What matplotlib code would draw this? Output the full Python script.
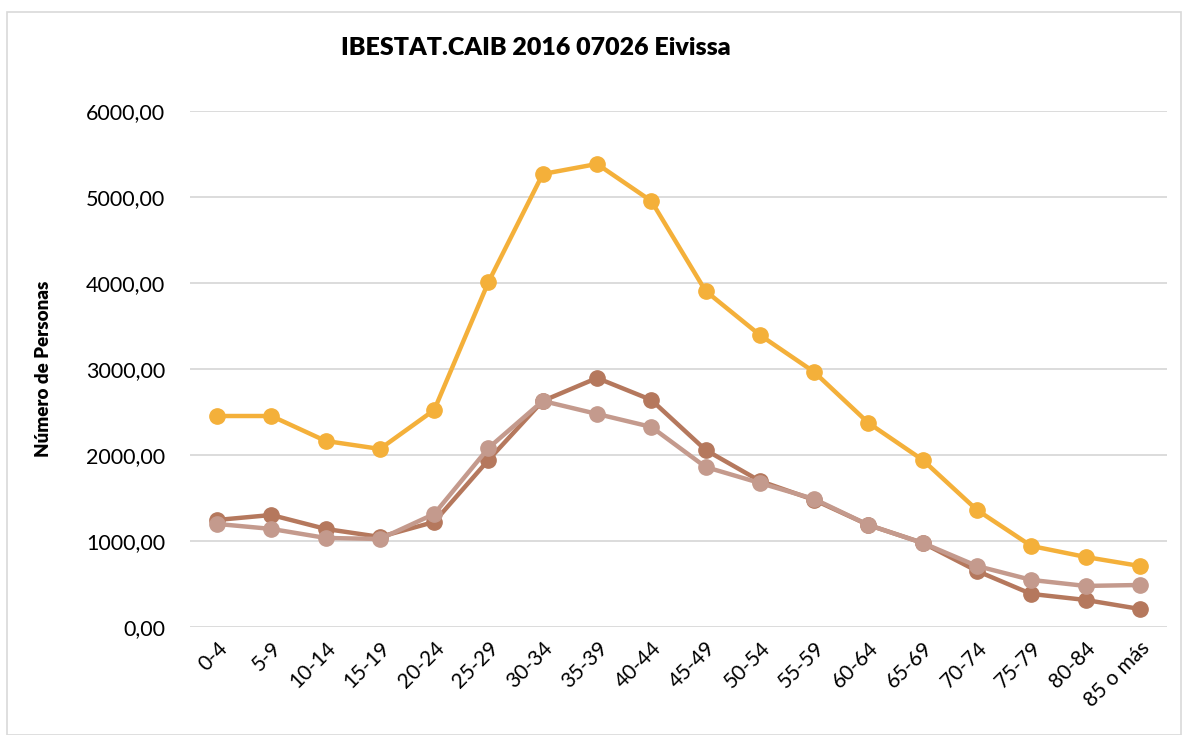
import numpy as np
import matplotlib.pyplot as plt
from matplotlib.patches import Rectangle
from matplotlib.ticker import FuncFormatter

plt.rcParams['font.family'] = ['Lato', 'DejaVu Sans']

grupos = ['0-4', '5-9', '10-14', '15-19', '20-24', '25-29', '30-34', '35-39',
          '40-44', '45-49', '50-54', '55-59', '60-64', '65-69', '70-74',
          '75-79', '80-84', '85 o más']

total = [2453, 2453, 2163, 2070, 2523, 4012, 5267, 5384, 4953, 3907, 3395,
         2965, 2372, 1942, 1360, 942, 814, 709]
hombres = [1244, 1302, 1140, 1047, 1221, 1942, 2628, 2895, 2640, 2058, 1698,
           1477, 1186, 977, 651, 384, 314, 209]
mujeres = [1198, 1140, 1035, 1023, 1314, 2081, 2628, 2477, 2326, 1860, 1674,
           1488, 1186, 977, 709, 547, 477, 488]

fig = plt.figure(figsize=(11.91, 7.35), dpi=100)
ax = fig.add_axes([0.1595, 0.147, 0.8203, 0.702])

# marco exterior del grafico
fig.patches.append(Rectangle((7 / 1191, 0), 1174 / 1191, 1 - 12 / 735,
                             transform=fig.transFigure, fill=False,
                             edgecolor='#d9d9d9', linewidth=1.2))

x = np.arange(len(grupos))
for serie, color in [(total, '#F4B03A'), (hombres, '#B5785D'), (mujeres, '#C49A8D')]:
    ax.plot(x, serie, color=color, linewidth=3.2, marker='o', markersize=11,
            solid_capstyle='round')

ax.set_xlim(-0.5, len(grupos) - 0.5)
ax.set_ylim(0, 6000)
ax.set_yticks(np.arange(0, 6001, 1000))
ax.yaxis.set_major_formatter(FuncFormatter(lambda v, p: f'{v:.2f}'.replace('.', ',')))
ax.grid(axis='y', color='#d9d9d9', linewidth=1.3)
ax.set_axisbelow(True)
for s in ax.spines.values():
    s.set_visible(False)
ax.tick_params(axis='y', length=0, labelsize=15.5, pad=18)

ax.set_xticks(x)
ax.set_xticklabels(grupos, rotation=45, ha='right', rotation_mode='anchor', fontsize=15)
ax.tick_params(axis='x', length=0, pad=8)

ax.set_ylabel('Número de Personas', fontsize=13.5, fontweight='heavy', labelpad=24)
fig.text(0.45, 0.935, 'IBESTAT.CAIB 2016 07026 Eivissa', ha='center', va='center',
         fontsize=18, fontweight='heavy')

fig.savefig('out.png', dpi=100)
